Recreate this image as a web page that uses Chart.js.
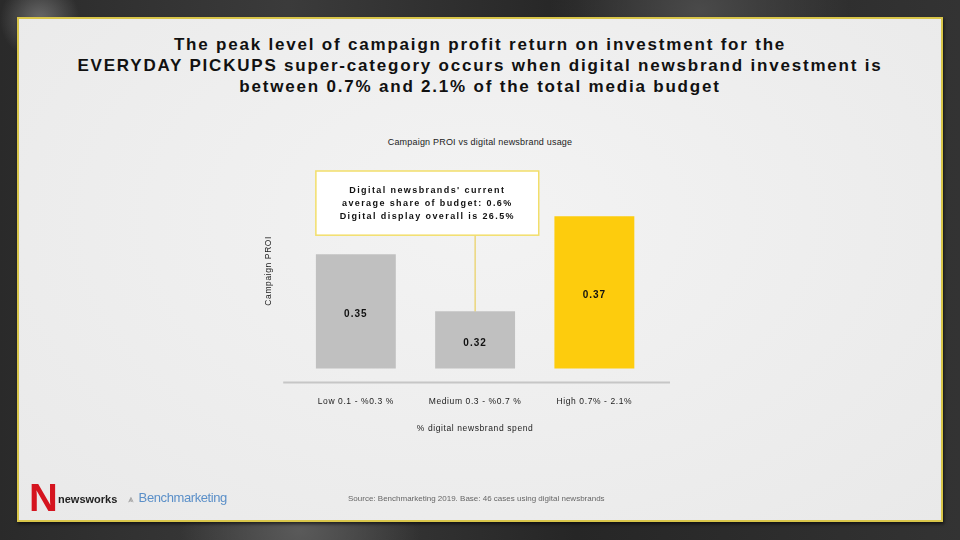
<!DOCTYPE html>
<html>
<head>
<meta charset="utf-8">
<script src="https://cdn.jsdelivr.net/npm/chart.js@4"></script>
<style>
  html, body { margin: 0; padding: 0; }
  body {
    width: 960px; height: 540px; position: relative; overflow: hidden;
    background:
      radial-gradient(circle at 40px 20px, #6a6a6a 0, rgba(60,60,60,0) 40px),
      radial-gradient(ellipse at 300px 530px, #5a5a5a 0, rgba(40,40,40,0) 120px),
      radial-gradient(ellipse at 700px 10px, #4a4a4a 0, rgba(40,40,40,0) 150px),
      linear-gradient(90deg, #2a2a2a, #3b3b3b 30%, #262626 60%, #333 100%);
    font-family: "Liberation Sans", Arial, sans-serif;
  }
  #panel {
    position: absolute; left: 17px; top: 17px; width: 922px; height: 501px;
    background: radial-gradient(ellipse at 50% 40%, #f3f3f3 0, #ececec 70%, #e9e9e9 100%);
    border: 2px solid #d9c64a;
    box-shadow: 1px 2px 3px rgba(0,0,0,0.6);
  }
  #heading {
    position: absolute; left: 0; top: 34px; width: 960px; text-align: center;
    font-weight: bold; font-size: 17px; line-height: 21px; color: #111;
    letter-spacing: 1.8px;
  }
  #chartTitle {
    position: absolute; left: 0; top: 137px; width: 960px; text-align: center;
    font-size: 9px; color: #222; letter-spacing: 0.2px;
  }
  #chartBox { position: absolute; left: 0; top: 0; width: 960px; height: 540px; }
  #source {
    position: absolute; left: 348px; top: 494px; font-size: 8px; color: #666;
    letter-spacing: 0px;
  }
  #nw {
    position: absolute; left: 29px; top: 478px; font-size: 38px; font-weight: 900;
    color: #d5141f; font-family: "Liberation Sans Narrow", "Liberation Sans", Arial, sans-serif;
    transform: scaleX(1.05); transform-origin: left top; line-height: 40px;
  }
  #nwText { position: absolute; left: 58px; top: 493px; font-size: 11px; font-weight: bold; color: #222; }
  #bm { position: absolute; left: 128px; top: 490px; font-size: 13px; color: #5a8fc8; letter-spacing: -0.4px; }
</style>
</head>
<body>
<div id="panel"></div>
<div id="heading">The peak level of campaign profit return on investment for the<br>EVERYDAY PICKUPS super-category occurs when digital newsbrand investment is<br>between 0.7% and 2.1% of the total media budget</div>
<div id="chartTitle">Campaign PROI vs digital newsbrand usage</div>
<div id="chartBox"><canvas id="chart" width="960" height="540"></canvas></div>
<div id="nw">N</div>
<div id="nwText">newsworks</div>
<div id="bm"><span style="color:#999;font-size:10px;margin-right:5px">&#x2A53;</span>Benchmarketing</div>
<div id="source">Source: Benchmarketing 2019. Base: 46 cases using digital newsbrands</div>

<script>
const categories = ["Low 0.1 - %0.3 %", "Medium 0.3 - %0.7 %", "High 0.7% - 2.1%"];
const proiValues = [0.35, 0.32, 0.37];
const barColors = ["#c0c0c0", "#c0c0c0", "#fdcc0d"];
const noteLines = ["Digital newsbrands' current", "average share of budget: 0.6%", "Digital display overall is 26.5%"];
const noteTop = 0.3937;
const noteBottom = 0.36;

const spacingPlugin = {
  id: "spacing",
  beforeDraw(chart) { chart.ctx.letterSpacing = "0.6px"; }
};

const valueLabels = {
  id: "valueLabels",
  afterDatasetsDraw(chart) {
    const ctx = chart.ctx;
    const meta = chart.getDatasetMeta(0);
    ctx.save();
    ctx.font = "bold 10px 'Liberation Sans', Arial, sans-serif";
    ctx.fillStyle = "#111";
    ctx.textAlign = "center";
    ctx.textBaseline = "middle";
    ctx.letterSpacing = "1px";
    meta.data.forEach((bar, i) => {
      ctx.fillText(proiValues[i].toFixed(2), bar.x, (bar.y + bar.base) / 2 + 3);
    });
    ctx.restore();
  }
};

const noteBox = {
  id: "noteBox",
  afterDatasetsDraw(chart) {
    const ctx = chart.ctx;
    const meta = chart.getDatasetMeta(0);
    const y = chart.scales.y;
    const b0 = meta.data[0], b1 = meta.data[1], b2 = meta.data[2];
    const left = b0.x - b0.width / 2;
    const right = (b1.x + b2.x) / 2 + 4;
    const top = y.getPixelForValue(noteTop);
    const bottom = y.getPixelForValue(noteBottom);
    ctx.save();
    // connector
    ctx.strokeStyle = "#e8c840";
    ctx.lineWidth = 1;
    ctx.beginPath();
    ctx.moveTo(b1.x, bottom);
    ctx.lineTo(b1.x, b1.y);
    ctx.stroke();
    // box
    ctx.fillStyle = "#ffffff";
    ctx.fillRect(left, top, right - left, bottom - top);
    ctx.strokeStyle = "#f2de6a";
    ctx.lineWidth = 1.5;
    ctx.strokeRect(left, top, right - left, bottom - top);
    ctx.font = "bold 9px 'Liberation Sans', Arial, sans-serif";
    ctx.fillStyle = "#111";
    ctx.textAlign = "center";
    ctx.textBaseline = "middle";
    ctx.letterSpacing = "1.4px";
    const cx = (left + right) / 2;
    noteLines.forEach((t, i) => {
      ctx.fillText(t, cx, top + 20 + i * 13);
    });
    ctx.restore();
  }
};

const axisLine = {
  id: "axisLine",
  afterDatasetsDraw(chart) {
    const ctx = chart.ctx;
    const a = chart.chartArea;
    ctx.save();
    ctx.strokeStyle = "#c6c6c6";
    ctx.lineWidth = 2;
    ctx.beginPath();
    ctx.moveTo(a.left - 13, a.bottom);
    ctx.lineTo(a.right + 16, a.bottom);
    ctx.stroke();
    ctx.restore();
  }
};

new Chart(document.getElementById("chart"), {
  type: "bar",
  data: {
    labels: categories,
    datasets: [{
      label: "Campaign PROI",
      data: proiValues,
      backgroundColor: barColors,
      base: 0.29,
      categoryPercentage: 1,
      barPercentage: 0.67
    }]
  },
  options: {
    responsive: false,
    animation: false,
    layout: { padding: { top: 159, left: 260, right: 306, bottom: 106 } },
    plugins: {
      legend: { display: false },
      tooltip: { enabled: false },
      title: { display: false }
    },
    scales: {
      x: {
        grid: { display: false, drawTicks: false },
        border: { display: false },
        ticks: { color: "#222", padding: 14, font: { size: 8.5, family: "'Liberation Sans', Arial, sans-serif" } },
        title: {
          display: true,
          text: "% digital newsbrand spend",
          color: "#222",
          font: { size: 8.5, family: "'Liberation Sans', Arial, sans-serif" },
          padding: { top: 3, bottom: 0 }
        }
      },
      y: {
        min: 0.2826,
        max: 0.40,
        grid: { display: false, drawTicks: false },
        border: { display: false },
        ticks: { display: false },
        title: {
          display: true,
          text: "Campaign PROI",
          color: "#222",
          font: { size: 8.5, family: "'Liberation Sans', Arial, sans-serif" },
          padding: { top: 4, bottom: 22 }
        }
      }
    }
  },
  plugins: [spacingPlugin, valueLabels, noteBox, axisLine]
});
</script>
</body>
</html>
